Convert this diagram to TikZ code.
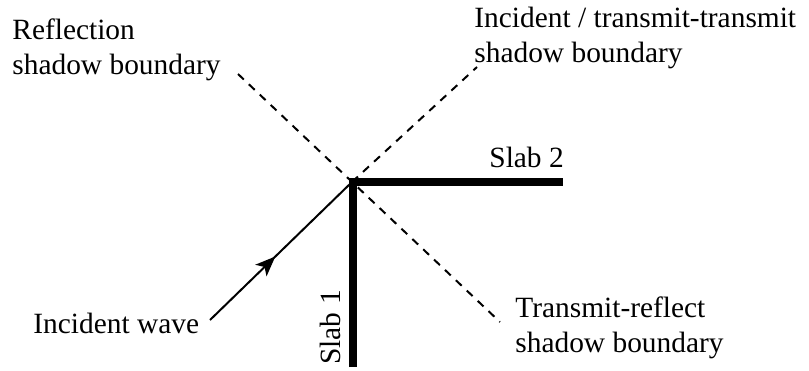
\documentclass[tikz,border=0pt]{standalone}
\usepackage{fontspec}
\setmainfont{Liberation Serif}
\usetikzlibrary{arrows.meta,decorations.markings}
\begin{document}
\begin{tikzpicture}[x=0.5pt,y=-0.5pt,
  lbl/.style={inner sep=0pt,align=left,anchor=base west,
    font=\fontsize{14.7}{17.4}\selectfont},
  slab/.style={line width=3.75pt,line cap=butt,line join=miter},
  boundary/.style={line width=1pt,dash pattern=on 4pt off 3.5pt},
  wave/.style={line width=1pt,postaction={decorate},
    decoration={markings,mark=at position 0.46 with {\arrow{Stealth[length=10pt,width=8pt,inset=2.5pt]}}}}]
  \useasboundingbox (0,0) rectangle (809,370);
  % geometry
  \coordinate (corner) at (352,182);
  \coordinate (reflA) at (238,74);
  \coordinate (reflB) at (500,322);
  \coordinate (incB) at (477,67);
  \coordinate (waveA) at (210,320);
  \coordinate (slabOneEnd) at (353,367);
  \coordinate (slabTwoEnd) at (563,182);
  % shadow boundaries
  \draw[boundary] (reflA) -- (reflB);
  \draw[boundary] (corner) -- (incB);
  % incident wave
  \draw[wave] (waveA) -- (corner);
  % slabs
  \draw[slab] (slabOneEnd) -- (353,182) -- (slabTwoEnd);
  % labels (anchored at the baseline of their last line)
  \node[lbl] (reflLbl) at (12,74) {Reflection\\shadow boundary};
  \node[lbl] (incLbl) at (474,62) {Incident / transmit-transmit\\shadow boundary};
  \node[lbl] (trLbl) at (515,352) {Transmit-reflect\\shadow boundary};
  \node[lbl] (waveLbl) at (33,333) {Incident wave};
  \node[lbl] (slabTwoLbl) at (489,167) {Slab 2};
  \node[lbl,rotate=90] (slabOneLbl) at (340,365) {Slab 1};
\end{tikzpicture}
\end{document}
